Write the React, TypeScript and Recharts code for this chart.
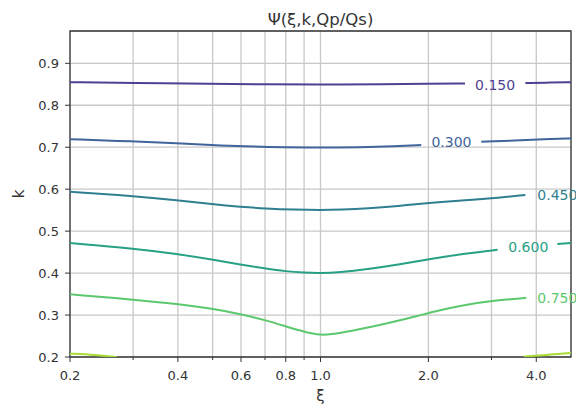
import React from 'react'
import { LineChart, Line, XAxis, YAxis, CartesianGrid, ReferenceArea, ReferenceDot } from 'recharts'

const FONT = '"DejaVu Sans", sans-serif'
const INK = '#333333'

const xTicks = [0.2, 0.3, 0.4, 0.5, 0.6, 0.7, 0.8, 0.9, 1.0, 2.0, 3.0, 4.0]
const xLabelled = [0.2, 0.4, 0.6, 0.8, 1.0, 2.0, 4.0]
const yTicks = [0.2, 0.3, 0.4, 0.5, 0.6, 0.7, 0.8, 0.9]
const xDomain = [0.2, 5]
const yDomain = [0.2, 0.977]

// contour levels, label text and colour
const levels = ['0.150', '0.300', '0.450', '0.600', '0.750', '0.900']
const levelColors = ['#503f92', '#3f659c', '#2f7f91', '#27a085', '#5cc86e', '#a8db34']

// contour lines (null = gap for the inline label)
const xi150 = [0.2, 0.3, 0.5, 0.7, 1.0, 1.5, 2.0, 2.53, 3.07, 3.73, 4.4, 5.0]
const k150 = [0.855, 0.853, 0.851, 0.85, 0.849, 0.85, 0.851, 0.852, null, 0.853, 0.854, 0.855]

const xi300 = [0.2, 0.3, 0.4, 0.5, 0.6, 0.8, 1.0, 1.3, 1.6, 1.91, 2.32, 2.81, 3.5, 4.2, 5.0]
const k300 = [0.719, 0.714, 0.709, 0.705, 0.702, 0.7, 0.699, 0.7, 0.702, 0.705, null, 0.713, 0.716, 0.719, 0.721]

const xi450 = [0.2, 0.3, 0.4, 0.5, 0.6, 0.7, 0.85, 1.0, 1.15, 1.35, 1.65, 2.0, 2.5, 2.97, 3.73]
const k450 = [0.594, 0.584, 0.5735, 0.564, 0.558, 0.554, 0.551, 0.55, 0.551, 0.554, 0.56, 0.567, 0.573, 0.578, 0.586]

const xi600 = [0.2, 0.3, 0.4, 0.5, 0.6, 0.7, 0.8, 0.9, 1.0, 1.13, 1.35, 1.65, 2.0, 2.5, 3.12, 3.8, 4.58, 5.0]
const k600 = [0.4715, 0.4587, 0.4454, 0.432, 0.42, 0.411, 0.404, 0.401, 0.4, 0.402, 0.409, 0.42, 0.433, 0.446, 0.4556, null, 0.4695, 0.4715]

const xi750 = [0.2, 0.3, 0.4, 0.5, 0.6, 0.7, 0.8, 0.9, 1.0, 1.1, 1.27, 1.55, 1.87, 2.11, 2.5, 2.94, 3.75]
const k750 = [0.3495, 0.337, 0.3265, 0.315, 0.302, 0.288, 0.273, 0.26, 0.2515, 0.2545, 0.265, 0.281, 0.298, 0.31, 0.323, 0.333, 0.341]

const xi900 = [0.2, 0.235, 0.27, 1.0, 3.69, 4.3, 5.0]
const k900 = [0.208, 0.205, 0.2, null, 0.201, 0.205, 0.2095]

// inline label positions
const labelXi = [3.07, 2.32, 4.58, 3.8, 4.58]
const labelK = [0.849, 0.712, 0.586, 0.462, 0.3405]

const toPoints = (xs: number[], ys: (number | null)[]) => xs.map((x, i) => ({ x, y: ys[i] }))

const contours = [
  toPoints(xi150, k150),
  toPoints(xi300, k300),
  toPoints(xi450, k450),
  toPoints(xi600, k600),
  toPoints(xi750, k750),
  toPoints(xi900, k900),
]

const XTick = (props: any) => {
  const { x, y, payload } = props
  const major = xLabelled.includes(payload.value)
  return (
    <g>
      <line x1={x} x2={x} y1={y} y2={y + (major ? 5 : 3)} stroke={INK} strokeWidth={1} />
      {major && (
        <text x={x} y={y + 23} textAnchor="middle" fill={INK} fontSize={13} fontFamily={FONT}>
          {payload.value.toFixed(1)}
        </text>
      )}
    </g>
  )
}

export default function App() {
  return (
    <div style={{ position: 'absolute', left: 0, top: 0, width: 576, height: 412, background: '#fff' }}>
      <div
        style={{
          position: 'absolute', left: 70, top: 10, width: 501, textAlign: 'center',
          fontFamily: FONT, fontSize: 16.5, lineHeight: '20px', color: INK,
        }}
      >
        Ψ(ξ,k,Qp/Qs)
      </div>
      <LineChart width={576} height={412} margin={{ top: 31, right: 5, bottom: 25, left: 10 }}>
        <CartesianGrid stroke="#c8c8c8" strokeWidth={1.3} />
        <XAxis
          dataKey="x"
          type="number"
          scale="log"
          domain={xDomain}
          ticks={xTicks}
          allowDataOverflow
          height={30}
          axisLine={false}
          tickLine={false}
          tickSize={0}
          tickMargin={0}
          interval={0}
          tick={<XTick />}
          label={{ value: 'ξ', position: 'bottom', offset: 3, fill: INK, fontSize: 15, fontFamily: FONT }}
        />
        <YAxis
          type="number"
          domain={yDomain}
          ticks={yTicks}
          allowDataOverflow
          width={60}
          axisLine={false}
          tickSize={5}
          tickMargin={6}
          interval={0}
          tickLine={{ stroke: INK }}
          tick={{ fill: INK, fontSize: 13, fontFamily: FONT }}
          tickFormatter={(v: number) => v.toFixed(1)}
          label={{
            content: ({ viewBox }: any) => (
              <text
                x={viewBox.x + 14}
                y={viewBox.y + viewBox.height / 2}
                transform={`rotate(-90 ${viewBox.x + 14} ${viewBox.y + viewBox.height / 2})`}
                textAnchor="middle"
                fill={INK}
                fontSize={15}
                fontFamily={FONT}
              >
                k
              </text>
            ),
          }}
        />
        {contours.map((pts, i) => (
          <Line
            key={levels[i]}
            data={pts}
            dataKey="y"
            type="basis"
            stroke={levelColors[i]}
            strokeWidth={2}
            dot={false}
            activeDot={false}
            connectNulls={false}
            isAnimationActive={false}
          />
        ))}
        {labelXi.map((xv, i) => (
          <ReferenceDot
            key={'lbl' + i}
            x={xv}
            y={labelK[i]}
            r={0}
            fill="none"
            stroke="none"
            label={{ value: levels[i], position: 'center', fill: levelColors[i], fontSize: 14, fontFamily: FONT }}
          />
        ))}
        <ReferenceArea
          x1={xDomain[0]}
          x2={xDomain[1]}
          y1={yDomain[0]}
          y2={yDomain[1]}
          fill="none"
          fillOpacity={0}
          stroke="#3a3a3a"
          strokeWidth={1.3}
        />
      </LineChart>
    </div>
  )
}
